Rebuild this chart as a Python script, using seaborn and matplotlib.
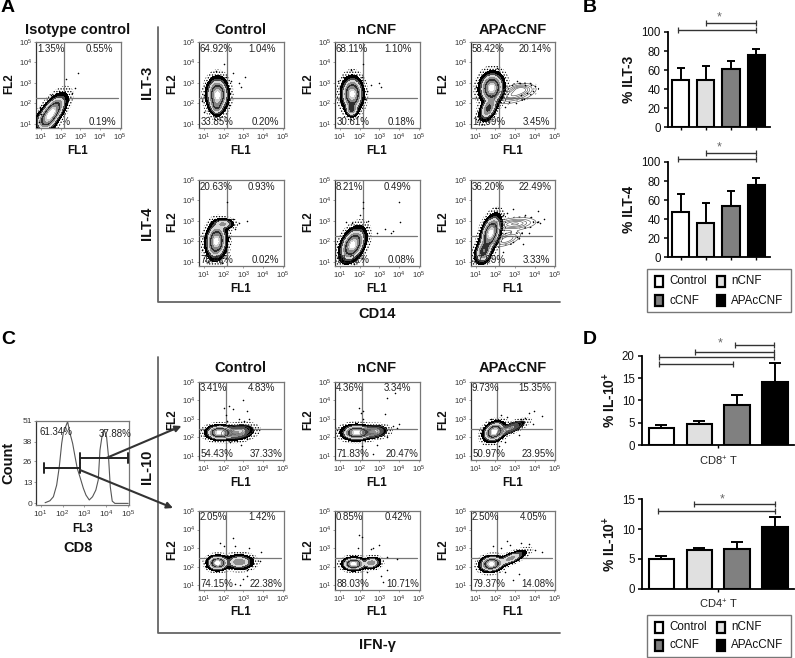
import numpy as np
import pandas as pd
import matplotlib
matplotlib.use("Agg")
import matplotlib.pyplot as plt
from matplotlib.patches import Rectangle
import seaborn as sns

sns.set_theme(style="white")
plt.rcParams["font.family"] = ["Liberation Sans", "DejaVu Sans"]
plt.rcParams["mathtext.default"] = "regular"
plt.rcParams["axes.unicode_minus"] = False
plt.rcParams["hatch.linewidth"] = 0.6
plt.rcParams["hatch.color"] = "black"

W, H = 795, 658
fig = plt.figure(figsize=(W / 100, H / 100), dpi=100, facecolor="white")

# ---------- bar chart data ----------
GROUPS = ["Control", "nCNF", "cCNF", "APAcCNF"]
BAR_COLORS = ["#ffffff", "#e0e0e0", "#808080", "#000000"]
ilt3_values = [49.5, 50, 61, 75.5]
ilt3_tops = [62, 64, 70, 82]
ilt4_values = [48, 36, 54, 75.5]
ilt4_tops = [66.5, 57.5, 70, 83]
cd8_values = [3.9, 4.8, 9.0, 14.2]
cd8_tops = [4.6, 5.5, 11.3, 18.4]
cd4_values = [4.9, 6.45, 6.7, 10.3]
cd4_tops = [5.5, 6.9, 7.9, 12.1]
ilt3_brackets = [(-0.09, 2.98, 102.5), (1.0, 3.0, 109)]
ilt4_brackets = [(-0.09, 2.98, 103), (1.0, 2.98, 109.5)]
cd8_brackets = [(1.94, 2.96, 22.3), (0.88, 2.96, 20.8), (-0.06, 2.96, 19.6), (-0.06, 1.88, 18.1)]
cd4_brackets = [(0.855, 2.98, 14.15), (-0.08, 2.98, 13.0)]

# ---------- histogram data ----------
hist_x = [1.20, 1.42, 1.58, 1.73, 1.85, 1.96, 2.03, 2.14, 2.23, 2.34, 2.46, 2.57, 2.67, 2.79, 2.95,
          3.07, 3.22, 3.37, 3.52, 3.63, 3.71, 3.80, 3.90, 4.01, 4.10, 4.18, 4.27, 4.39, 5.0]
hist_y = [0.4, 1.6, 4.1, 11.3, 22.6, 37, 43.2, 47.3, 50.4, 43.2, 37, 28.8, 21.6, 16.5, 9.3,
          5.1, 2.1, 4.1, 8.2, 14.4, 32.9, 41.2, 45.3, 41.2, 28.8, 10.3, 1.4, 0, 0]
hist_ticks = [0, 13, 26, 38, 51]

# ---------- flow panels: quadrant labels UL, UR, LL, LR ----------
iso_pct = ["1.35%", "0.55%", "97.91%", "0.19%"]
a_ctrl_3 = ["64.92%", "1.04%", "33.85%", "0.20%"]
a_ncnf_3 = ["68.11%", "1.10%", "30.61%", "0.18%"]
a_apac_3 = ["58.42%", "20.14%", "17.99%", "3.45%"]
a_ctrl_4 = ["20.63%", "0.93%", "78.42%", "0.02%"]
a_ncnf_4 = ["8.21%", "0.49%", "91.22%", "0.08%"]
a_apac_4 = ["36.20%", "22.49%", "37.99%", "3.33%"]
c_ctrl_1 = ["3.41%", "4.83%", "54.43%", "37.33%"]
c_ncnf_1 = ["4.36%", "3.34%", "71.83%", "20.47%"]
c_apac_1 = ["9.73%", "15.35%", "50.97%", "23.95%"]
c_ctrl_2 = ["2.05%", "1.42%", "74.15%", "22.38%"]
c_ncnf_2 = ["0.85%", "0.42%", "88.03%", "10.71%"]
c_apac_2 = ["2.50%", "4.05%", "79.37%", "14.08%"]

# populations: centre x, centre y, sigma major, sigma minor, angle, amplitude (log10 units)
iso_pop = [(1.55, 1.55, .46, .2, 52, 1), (1.25, 1.15, .25, .2, 0, .25)]
a_ctrl_3_pop = [(1.69, 2.42, .36, .24, 90, 1), (1.65, 1.85, .2, .15, 90, .35)]
a_ncnf_3_pop = [(1.63, 2.45, .36, .24, 90, 1), (1.6, 1.7, .16, .14, 90, .45)]
a_apac_3_pop = [(1.82, 2.75, .33, .27, 80, 1), (1.65, 1.75, .3, .17, 60, .5)]
a_ctrl_4_pop = [(1.63, 2.0, .38, .23, 85, 1), (2.0, 2.85, .25, .12, 0, .3)]
a_ncnf_4_pop = [(1.65, 1.83, .4, .24, 60, 1)]
a_apac_4_pop = [(1.77, 2.4, .4, .2, 70, 1), (1.4, 1.5, .28, .18, 70, .55)]
c_ctrl_1_pop = [(1.8, 2.25, .3, .17, 0, 1), (2.7, 2.25, .4, .19, 10, .3)]
c_ncnf_1_pop = [(1.85, 2.25, .33, .18, 0, 1), (2.7, 2.3, .33, .16, 5, .3)]
c_apac_1_pop = [(1.95, 2.3, .27, .2, 40, 1), (2.8, 2.5, .4, .12, 25, .2)]
c_ctrl_2_pop = [(1.7, 2.2, .23, .17, 0, 1), (2.8, 2.25, .33, .18, 0, .42)]
c_ncnf_2_pop = [(1.7, 2.15, .25, .15, 0, 1), (2.6, 2.2, .22, .14, 10, .4)]
c_apac_2_pop = [(1.8, 2.15, .26, .18, 10, 1), (2.8, 2.45, .4, .12, 25, .35)]

# faint side populations drawn as thin contours only
a_apac_3_arm = [(3.0, 2.45, .55, .2, 15, .2), (3.3, 2.7, .3, .13, 0, .12)]
a_apac_4_arm = [(3.0, 2.85, .55, .15, 5, .2), (2.6, 2.1, .4, .15, 20, .15)]
c_ctrl_1_arm = [(2.7, 2.3, .4, .17, 10, .25)]
c_ncnf_1_arm = [(2.7, 2.3, .33, .15, 5, .25)]
c_apac_1_arm = [(2.8, 2.5, .4, .11, 25, .2)]

# stray events
iso_dots = [(2.9, 3.5), (2.3, 3.2), (2.6, 2.5), (2.75, 2.75), (1.0, 1.5), (0.95, 1.8), (0.9, 1.1), (1.1, 1.9), (1.5, 2.4), (1.9, 2.6)]
a_ctrl_3_dots = [(2.0, 3.9), (2.5, 3.5), (3.1, 3.3), (2.4, 3.1), (2.9, 2.8), (2.8, 3.0), (0.9, 2.1), (1.0, 1.6), (1.05, 2.8), (2.2, 2.9), (2.35, 2.5), (1.6, 3.55), (2.1, 3.3), (1.0, 2.4), (2.3, 1.9)]
a_ncnf_3_dots = [(2.2, 3.9), (3.0, 3.0), (3.1, 2.8), (2.6, 2.9), (2.4, 2.6), (0.9, 3.1), (1.0, 2.8), (1.1, 2.1), (1.55, 3.6), (2.1, 3.3), (2.3, 2.2), (1.0, 2.5), (1.15, 3.3)]
a_apac_3_dots = [(2.1, 3.7), (2.4, 3.3), (3.1, 3.1), (3.5, 2.9), (3.8, 2.9), (4.0, 2.85), (3.6, 2.5), (3.9, 2.6), (3.3, 2.4), (2.7, 2.05), (3.05, 2.0), (2.5, 1.8), (1.1, 1.2), (1.3, 1.0), (1.0, 2.8), (1.2, 3.2), (1.6, 3.5), (2.85, 2.9), (3.45, 2.2), (1.1, 1.6), (3.25, 3.0)]
a_ctrl_4_dots = [(2.2, 3.9), (3.2, 3.0), (2.8, 2.9), (2.6, 2.6), (2.5, 3.1), (1.0, 2.2), (0.9, 1.6), (1.2, 1.0), (1.9, 0.95), (2.3, 2.2), (1.3, 2.9), (1.7, 3.05)]
a_ncnf_4_dots = [(4.0, 3.9), (4.05, 2.95), (3.7, 2.5), (3.3, 2.6), (2.2, 3.9), (2.15, 3.6), (2.0, 3.3), (2.45, 3.0), (1.6, 2.9), (1.3, 2.95), (2.9, 2.4), (3.6, 2.4), (2.4, 2.7), (1.0, 1.9), (1.1, 1.2), (1.7, 0.9)]
a_apac_4_dots = [(2.05, 3.6), (2.9, 3.55), (3.5, 3.3), (4.2, 3.5), (4.5, 3.1), (4.1, 2.95), (3.8, 3.2), (2.4, 3.3), (1.5, 3.0), (1.0, 1.7), (1.0, 1.2), (1.2, 0.95), (2.9, 1.95), (3.4, 1.85), (3.1, 2.2), (3.7, 2.4), (2.4, 1.5), (2.6, 3.4), (1.2, 2.5), (4.3, 2.9)]
c_ctrl_1_dots = [(3.0, 4.0), (2.0, 3.6), (2.1, 3.2), (2.5, 3.5), (2.2, 2.9), (3.2, 3.4), (3.3, 3.0), (2.8, 3.0), (3.05, 2.85), (3.2, 1.9), (2.9, 1.6), (3.4, 2.3), (2.35, 1.75), (1.1, 2.1), (2.3, 3.7), (2.7, 1.8)]
c_ncnf_1_dots = [(3.8, 4.4), (1.95, 3.6), (2.05, 3.3), (2.2, 3.0), (3.3, 3.25), (3.9, 2.5), (4.0, 2.7), (3.7, 2.6), (2.9, 1.6), (2.1, 1.5), (2.7, 1.1), (1.2, 2.4), (2.2, 3.4), (3.4, 2.0), (3.4, 4.1)]
c_apac_1_dots = [(3.7, 3.3), (3.95, 3.4), (4.4, 3.15), (3.5, 3.05), (3.3, 3.0), (2.3, 3.2), (1.8, 3.0), (1.35, 2.3), (3.9, 2.7), (2.2, 1.5), (2.5, 1.75), (3.2, 2.1), (2.6, 3.1)]
c_ctrl_2_dots = [(2.5, 3.55), (2.0, 3.1), (1.8, 3.25), (2.9, 2.7), (3.5, 2.5), (3.85, 2.3), (3.9, 2.8), (3.2, 1.5), (2.85, 1.0), (2.6, 1.05), (3.2, 1.8), (3.0, 1.35), (1.1, 2.0), (2.6, 3.1), (3.3, 3.0)]
c_ncnf_2_dots = [(1.95, 3.7), (2.1, 3.6), (2.7, 3.0), (3.0, 3.15), (1.9, 3.0), (3.4, 2.5), (3.9, 2.4), (3.4, 1.8), (3.1, 1.5), (3.2, 1.2), (2.4, 1.7), (1.2, 2.3), (2.6, 2.95)]
c_apac_2_dots = [(2.6, 3.4), (3.3, 3.3), (3.7, 3.2), (1.9, 3.1), (2.3, 3.0), (4.4, 2.8), (4.0, 2.9), (2.9, 1.3), (3.2, 1.6), (2.5, 1.7), (1.15, 2.2), (2.75, 3.15)]

panel_rows = [
    (41.7, 128, 5 - 0.8, [
        (36, iso_pct, iso_pop, [], iso_dots, 2.17, 2.25),
        (199, a_ctrl_3, a_ctrl_3_pop, [], a_ctrl_3_dots, 2.17, 2.25),
        (335, a_ncnf_3, a_ncnf_3_pop, [], a_ncnf_3_dots, 2.17, 2.25),
        (470.7, a_apac_3, a_apac_3_pop, a_apac_3_arm, a_apac_3_dots, 2.17, 2.25)]),
    (179.7, 266, 5 - 0.8, [
        (199, a_ctrl_4, a_ctrl_4_pop, [], a_ctrl_4_dots, 2.17, 2.28),
        (335, a_ncnf_4, a_ncnf_4_pop, [], a_ncnf_4_dots, 2.17, 2.28),
        (470.7, a_apac_4, a_apac_4_pop, a_apac_4_arm, a_apac_4_dots, 2.17, 2.28)]),
    (381.7, 460, 5 - 0.77, [
        (199, c_ctrl_1, c_ctrl_1_pop, c_ctrl_1_arm, c_ctrl_1_dots, 2.1, 2.44),
        (335, c_ncnf_1, c_ncnf_1_pop, c_ncnf_1_arm, c_ncnf_1_dots, 2.1, 2.44),
        (470.7, c_apac_1, c_apac_1_pop, c_apac_1_arm, c_apac_1_dots, 2.1, 2.44)]),
    (511, 589.5, 5 - 0.77, [
        (199, c_ctrl_2, c_ctrl_2_pop, [], c_ctrl_2_dots, 2.1, 2.46),
        (335, c_ncnf_2, c_ncnf_2_pop, [], c_ncnf_2_dots, 2.1, 2.46),
        (470.7, c_apac_2, c_apac_2_pop, [], c_apac_2_dots, 2.1, 2.46)]),
]

LEVELS = [0.035, 0.11, 0.19, 0.3, 0.45, 0.6, 0.8, 0.93, 5]
BANDS = ["#000000", "#4a4a4a", "#d8d8d8", "#909090", "#2e2e2e", "#858585", "#cfcfcf", "#ffffff"]
TXT = "#222222"
DECADES = [1, 2, 3, 4, 5]
DEC_LABELS = [f"$10^{{{d}}}$" for d in DECADES]


def px_axes(x0, y0, x1, y1):
    return fig.add_axes([x0 / W, 1 - y1 / H, (x1 - x0) / W, (y1 - y0) / H])


def density(pops, X, Y):
    Z = np.zeros_like(X)
    for cx, cy, a, b, ang, amp in pops:
        t = np.deg2rad(ang)
        u = (X - cx) * np.cos(t) + (Y - cy) * np.sin(t)
        v = -(X - cx) * np.sin(t) + (Y - cy) * np.cos(t)
        Z = Z + amp * np.exp(-0.5 * ((u / a) ** 2 + (v / b) ** 2))
    return Z


def style_frame(ax, color="#777777"):
    for s in ax.spines.values():
        s.set_visible(True)
        s.set_color(color)
        s.set_linewidth(0.9)
    ax.spines["left"].set_color("#333333")
    ax.tick_params(length=1.2, width=0.4, color="#555555", pad=1.5, labelsize=5.5, labelcolor="#333333",
                   bottom=True, left=True)


def flow_panel(x0, y0, y1, span, pct, pops, arms, dots, vg, hg):
    ax = px_axes(x0, y0, x0 + 84.5, y1)
    ylo = 5 - span
    ax.set_xlim(0.75, 5.05)
    ax.set_ylim(ylo, 5)
    xs = np.linspace(0.75, 5.05, 260)
    ys = np.linspace(ylo, 5, 260)
    X, Y = np.meshgrid(xs, ys)
    Z = density(pops, X, Y)
    halo = ax.contourf(X, Y, Z, levels=[0.003, 0.04], colors=["white"], hatches=["......"], zorder=2.0)
    halo.set_edgecolor("black")
    halo.set_linewidth(0)
    ax.contourf(X, Y, Z, levels=LEVELS, colors=BANDS, zorder=3)
    if arms:
        ZA = density(arms, X, Y)
        halo2 = ax.contourf(X, Y, ZA, levels=[0.015, 0.05], colors=["white"], hatches=["..."], zorder=1.9)
        halo2.set_edgecolor("black")
        halo2.set_linewidth(0)
        ax.contour(X, Y, ZA, levels=[.03, .07, .11, .15, .19], colors="#555555",
                   linewidths=0.45, zorder=4)
    ax.plot([vg, vg], [ylo, 5], color="#777777", lw=0.9, zorder=2.6)
    ax.plot([0.75, 4.9], [hg, hg], color="#777777", lw=0.9, zorder=2.6)
    dd = pd.DataFrame(dots, columns=["x", "y"])
    sns.scatterplot(data=dd, x="x", y="y", ax=ax, s=1.3, color="black", linewidth=0, zorder=5, legend=False)
    ax.set_xlabel("")
    ax.set_ylabel("")
    ax.set_xticks(DECADES, DEC_LABELS)
    ax.set_yticks(DECADES, DEC_LABELS)
    style_frame(ax)
    top = 5 - 0.08 * span
    bot = ylo + 0.075 * span
    tz = 1.5 if pct is iso_pct else 6
    ax.text(0.8, top, pct[0], fontsize=7, color=TXT, ha="left", va="center", zorder=tz)
    ax.text(4.85 if len(pct[1]) == 6 else 4.65, top, pct[1], fontsize=7, color=TXT, ha="right", va="center", zorder=tz)
    ax.text(0.85, bot, pct[2], fontsize=7, color=TXT, ha="left", va="center", zorder=tz)
    ax.text(5.02 if len(pct[3]) == 6 else 4.82, bot, pct[3], fontsize=7, color=TXT, ha="right", va="center", zorder=tz)
    ov.text(x0 + 42, y1 + 22.5, "FL1", fontsize=8.4, fontweight="bold", ha="center", va="center", color="#111111")
    ov.text(x0 - 27, (y0 + y1) / 2 - 1, "FL2", fontsize=8.4, fontweight="bold", ha="center", va="center",
            rotation=90, color="#111111")
    return ax


def bar_panel(box, xlim, ylim, yticks, values, tops, brackets, star, ylabel, ylabel_x, xlabel=None, cap=3.2):
    ax = px_axes(*box)
    df = pd.DataFrame({"group": GROUPS, "value": values})
    sns.barplot(data=df, x="group", y="value", hue="group", palette=BAR_COLORS, hue_order=GROUPS, dodge=False,
                width=0.68, edgecolor="black", linewidth=1.5, legend=False, ax=ax, zorder=2)
    vals = np.array(values, float)
    ax.errorbar(range(4), vals, yerr=[np.zeros(4), np.array(tops) - vals], fmt="none", ecolor="black",
                elinewidth=1.4, capsize=cap, capthick=1.4, zorder=1)
    ax.set_xlim(*xlim)
    ax.set_ylim(*ylim)
    ax.set_yticks(yticks)
    ax.set_ylabel("")
    ax.set_xlabel("")
    sns.despine(ax=ax)
    for s in ("left", "bottom"):
        ax.spines[s].set_color("black")
        ax.spines[s].set_linewidth(1.3)
    ax.tick_params(axis="y", length=3, width=1.1, color="black", labelsize=8.3, labelcolor="#111111", pad=2, left=True)
    if xlabel is None:
        ax.set_xticks(range(4), [""] * 4)
    else:
        ax.set_xticks([1.5], [xlabel], fontsize=8, color="#222222")
    ax.tick_params(axis="x", length=2, width=1.0, color="black", pad=4.5, bottom=True)
    for a, b, y in brackets:
        ax.plot([a, b], [y, y], color="#333333", lw=1.0, clip_on=False, marker="|", ms=4, mew=0.9)
    ax.text(star[0], star[1], "*", fontsize=9, color="#666666", ha="center", va="center", clip_on=False)
    ov.text(ylabel_x, (box[1] + box[3]) / 2, ylabel, fontsize=10, fontweight="bold", rotation=90,
            ha="center", va="center", color="#111111")
    return ax


def legend_box(x0, y0, x1, y1, rows_y):
    ov.add_patch(Rectangle((x0, y0), x1 - x0, y1 - y0, fc="white", ec="#777777", lw=1.0))
    slots = [(655, rows_y[0], 669), (717, rows_y[0], 731.3), (655, rows_y[1], 669), (717, rows_y[1], 731.3)]
    for (sx, sy, tx), name, col in zip(slots, GROUPS, BAR_COLORS):
        ov.add_patch(Rectangle((sx, sy), 7.5, 11, fc=col, ec="black", lw=1.6))
        ov.text(tx, sy + 5.5, name, fontsize=8.4, ha="left", va="center", color="#111111")


# overlay in pixel coordinates for labels, dividers, arrows
ov = fig.add_axes([0, 0, 1, 1], zorder=10)
ov.set_xlim(0, W)
ov.set_ylim(H, 0)
ov.axis("off")
ov.patch.set_alpha(0)

for y0, y1, span, cols in panel_rows:
    for x0, pct, pops, arms, dots, vg, hg in cols:
        flow_panel(x0, y0, y1, span, pct, pops, arms, dots, vg, hg)

# histogram
hax = px_axes(36, 420.7, 129.3, 505)
hist_df = pd.DataFrame({"x": hist_x, "y": hist_y})
sns.lineplot(data=hist_df, x="x", y="y", ax=hax, color="#555555", lw=0.8)
hax.set_xlim(0.785, 5.05)
hax.set_ylim(-1, 51)
hax.set_xticks(DECADES, DEC_LABELS)
hax.set_yticks(hist_ticks)
hax.set_xlabel("")
hax.set_ylabel("")
style_frame(hax)
hax.tick_params(axis="y", labelsize=6)
hax.tick_params(axis="x", labelsize=6)
hax.text(0.95, 44, "61.34%", fontsize=7, color=TXT, ha="left", va="center")
hax.text(3.65, 43, "37.88%", fontsize=7, color=TXT, ha="left", va="center")

# bars
bar_panel((667.7, 32, 770, 127.3), (-0.516, 3.55), (0, 100), range(0, 101, 20), ilt3_values, ilt3_tops,
          ilt3_brackets, (1.53, 115), "% ILT-3", 629)
bar_panel((667.7, 162, 770, 257.3), (-0.516, 3.55), (0, 100), range(0, 101, 20), ilt4_values, ilt4_tops,
          ilt4_brackets, (1.53, 115), "% ILT-4", 629)
bar_panel((641.7, 355.7, 794, 445.3), (-0.52, 3.49), (0, 20), range(0, 21, 5), cd8_values, cd8_tops,
          cd8_brackets, (1.55, 22.8), "% IL-10$^{+}$", 610, xlabel="CD8$^{+}$ T", cap=4.5)
bar_panel((641.7, 499.3, 794, 588.7), (-0.52, 3.49), (0, 15), range(0, 16, 5), cd4_values, cd4_tops,
          cd4_brackets, (1.6, 15.0), "% IL-10$^{+}$", 610, xlabel="CD4$^{+}$ T", cap=4.5)

legend_box(647.3, 269.3, 790.7, 311.7, (276, 295))
legend_box(646.7, 615, 790.7, 657, (621.7, 639.5))

# dividers
for pts in ([(158, 27), (158, 302), (560, 302)], [(158, 357), (158, 633), (560, 633)]):
    xs, ys = zip(*pts)
    ov.plot(xs, ys, color="#666666", lw=1.3)

# histogram gates and arrows
for x0, x1, y in [(44, 80, 468.3), (80.3, 128.3, 457.7)]:
    ov.plot([x0, x1], [y, y], color="#222222", lw=1.4)
    ov.plot([x0, x0], [y - 5, y + 5], color="#222222", lw=1.4)
    ov.plot([x1, x1], [y - 5, y + 5], color="#222222", lw=1.4)
for start, end in [((107, 457.7), (181.5, 426)), ((80, 470), (173, 508))]:
    ov.annotate("", xy=end, xytext=start,
                arrowprops=dict(arrowstyle="-|>", color="#333333", lw=1.5, shrinkA=0, shrinkB=0, mutation_scale=9))

# texts
for x, y, s in [(78, 30, "Isotype control"), (240.7, 30, "Control"), (376.7, 30, "nCNF"), (513, 30, "APAcCNF"),
                (240.7, 367.7, "Control"), (376.7, 367.7, "nCNF"), (512.7, 367.7, "APAcCNF"),
                (376.7, 313.7, "CD14"), (377, 645, "IFN-γ"), (77.7, 547.7, "CD8")]:
    ov.text(x, y, s, fontsize=10.5, fontweight="bold", ha="center", va="center", color="#111111")
for x, y, s in [(147, 82, "ILT-3"), (147, 223, "ILT-4"), (146.7, 466.7, "IL-10"), (8.3, 462.7, "Count")]:
    ov.text(x, y, s, fontsize=10.5, fontweight="bold", rotation=90, ha="center", va="center", color="#111111")
ov.text(82.7, 529, "FL3", fontsize=8.4, fontweight="bold", ha="center", va="center", color="#111111")
for x, y, s in [(1, 8, "A"), (583, 8, "B"), (1, 339, "C"), (583, 339, "D")]:
    ov.text(x, y, s, fontsize=14, fontweight="bold", ha="left", va="center", color="black")

fig.savefig("out.png", dpi=100, facecolor="white")
